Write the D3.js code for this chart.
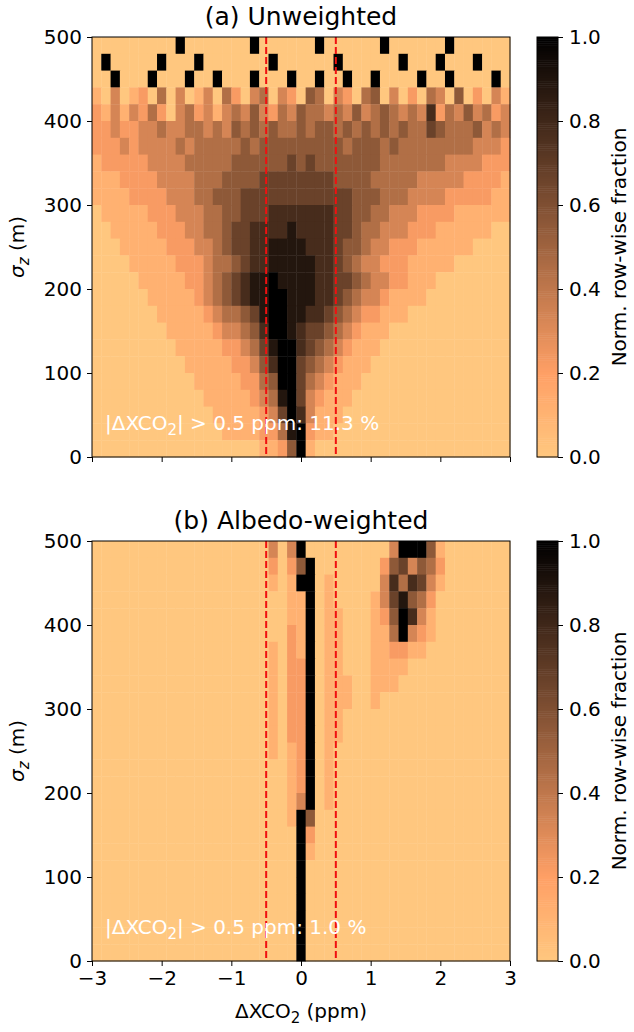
<!DOCTYPE html>
<html><head><meta charset="utf-8">
<script src="https://cdn.jsdelivr.net/npm/d3@7"></script>
<style>body{margin:0;background:#fff}text{font-family:"DejaVu Sans",sans-serif}</style>
</head><body><svg id="c" width="634" height="1032"></svg>
<script>
// Row strings: top row (480-500 m) first, 45 bins from -3 to 3 ppm, digit d -> value d/9
const rowsUnweighted = [
"00000 00009 00000 00900 00009 00000 09000 00090 00000",
"09000 00900 09000 00009 00000 09000 00090 00900 09000",
"00900 09000 90090 00900 09009 00900 90000 90090 00090",
"10301 20403 01304 20340 32054 03204 50302 04305 02031",
"21313 24203 42313 43532 43544 34353 45434 37243 53423",
"22322 33433 44343 54545 44545 54545 45454 46544 45343",
"22232 33334 34444 45455 55555 55455 54544 44444 43332",
"12222 23333 44444 55555 56565 55555 54444 44433 33222",
"11122 22333 34445 55566 66666 65555 44444 33333 22221",
"11112 22233 34455 56666 66666 66655 54443 33322 22211",
"01111 12223 33445 56667 77777 76655 44333 22221 11111",
"00111 11222 33445 66777 78777 76654 43332 22111 11100",
"00011 11122 23345 66778 88877 76554 33222 11111 10000",
"00001 11112 22344 56778 88887 76543 32221 11110 00000",
"00000 11111 22345 67889 88887 76654 33221 11000 00000",
"00000 01111 12345 67889 98887 76543 32111 10000 00000",
"00000 00111 11234 45689 98877 65432 21110 00000 00000",
"00000 00011 11123 34579 98766 54321 11000 00000 00000",
"00000 00001 11112 23468 99765 43211 10000 00000 00000",
"00000 00000 11111 22357 99654 32111 00000 00000 00000",
"00000 00000 01111 12245 99643 21110 00000 00000 00000",
"00000 00000 00111 11234 89632 11100 00000 00000 00000",
"00000 00000 00011 11123 69731 11000 00000 00000 00000",
"00000 00000 00001 11122 48921 10000 00000 00000 00000",
"00000 00000 00000 00011 25910 00000 00000 00000 00000"];
const rowsWeighted = [
"00000 00000 00000 00003 03900 00000 00399 95100 00000",
"00000 00000 00000 00002 02590 00000 02563 54200 00000",
"00000 00000 00000 00001 01990 10000 03747 63100 00000",
"00000 00000 00000 00000 01190 10000 13685 42000 00000",
"00000 00000 00000 00000 01190 11000 12597 31000 00000",
"00000 00000 00000 00000 02190 11000 11493 21000 00000",
"00000 00000 00000 00001 02190 11000 11221 10000 00000",
"00000 00000 00000 00001 02290 11000 11110 00000 00000",
"00000 00000 00000 00001 02290 11100 11100 00000 00000",
"00000 00000 00000 00001 02290 11100 10000 00000 00000",
"00000 00000 00000 00001 02290 11000 00000 00000 00000",
"00000 00000 00000 00001 02290 11000 00000 00000 00000",
"00000 00000 00000 00001 01290 10000 00000 00000 00000",
"00000 00000 00000 00000 01290 10000 00000 00000 00000",
"00000 00000 00000 00000 01290 10000 00000 00000 00000",
"00000 00000 00000 00000 01390 10000 00000 00000 00000",
"00000 00000 00000 00000 01950 00000 00000 00000 00000",
"00000 00000 00000 00000 00920 00000 00000 00000 00000",
"00000 00000 00000 00000 00910 00000 00000 00000 00000",
"00000 00000 00000 00000 00900 00000 00000 00000 00000",
"00000 00000 00000 00000 00900 00000 00000 00000 00000",
"00000 00000 00000 00000 00900 00000 00000 00000 00000",
"00000 00000 00000 00000 00900 00000 00000 00000 00000",
"00000 00000 00000 00000 00900 00000 00000 00000 00000",
"00000 00000 00000 00000 00900 00000 00000 00000 00000"];
const titles = ["(a) Unweighted", "(b) Albedo-weighted"];
const fractions = ["11.3 %", "1.0 %"];
const xTicks = [-3,-2,-1,0,1,2,3];
const yTicks = [0,100,200,300,400,500];
const cbTicks = [0,0.2,0.4,0.6,0.8,1.0];
const threshold = 0.5;

const copperR = v => { const t = 1 - v;
  return `rgb(${Math.round(255*Math.min(1,1.25*t))},${Math.round(255*0.7812*t)},${Math.round(255*0.4975*t)})`; };
const svg = d3.select("#c");
const panels = [{rows: rowsUnweighted, top: 37}, {rows: rowsWeighted, top: 541}];
const L = 92, R = 510, H = 420;
const x = d3.scaleLinear().domain([-3,3]).range([L,R]);
const FS = 20, SUB = 15;

panels.forEach((p, i) => {
  const y = d3.scaleLinear().domain([0,500]).range([p.top+H, p.top]);
  const grid = p.rows.map(s => s.replace(/ /g,"").split("").map(c => +c/9));
  const nr = grid.length, nc = grid[0].length, dx = 6/nc, dy = 500/nr;
  const cells = [];
  grid.forEach((row, r) => row.forEach((v, c) => cells.push({x0: -3 + c*dx, y1: 500 - r*dy, v})));
  const g = svg.append("g");
  g.selectAll("rect").data(cells).join("rect")
    .attr("x", d => x(d.x0)).attr("y", d => y(d.y1))
    .attr("width", x(dx) - x(0) + 0.4).attr("height", y(0) - y(dy) + 0.4)
    .attr("fill", d => copperR(d.v));
  [-threshold, threshold].forEach(t => g.append("line")
    .attr("x1", x(t)).attr("x2", x(t)).attr("y1", p.top).attr("y2", p.top+H)
    .attr("stroke", "#f01010").attr("stroke-width", 2).attr("stroke-dasharray", "7,3"));
  g.append("rect").attr("x", L).attr("y", p.top).attr("width", R-L).attr("height", H)
    .attr("fill", "none").attr("stroke", "#000").attr("stroke-width", 1);
  const xa = svg.append("g").attr("transform", `translate(0,${p.top+H})`)
    .call(d3.axisBottom(x).tickValues(xTicks).tickSize(5).tickPadding(5).tickFormat(i === 0 ? "" : d => d < 0 ? "−" + (-d) : d));
  const ya = svg.append("g").attr("transform", `translate(${L},0)`)
    .call(d3.axisLeft(y).tickValues(yTicks).tickSize(5).tickPadding(5));
  [xa, ya].forEach(a => { a.select(".domain").remove(); a.selectAll("text").attr("font-size", FS).attr("fill", "#000"); });
  svg.append("text").attr("x", (L+R)/2).attr("y", p.top - 12).attr("text-anchor", "middle")
    .attr("font-size", 25).text(titles[i]);
  const yl = svg.append("text").attr("transform", `translate(24,${p.top+H/2}) rotate(-90)`)
    .attr("text-anchor", "middle").attr("font-size", FS);
  yl.append("tspan").attr("font-style", "italic").text("σ");
  yl.append("tspan").attr("font-style", "italic").attr("font-size", SUB).attr("dy", 5).text("z");
  yl.append("tspan").attr("dy", -5).text(" (m)");
  const an = svg.append("text").attr("x", 105).attr("y", p.top + H - 27).attr("fill", "#fff").attr("font-size", FS);
  an.append("tspan").text("|ΔXCO");
  an.append("tspan").attr("font-size", SUB).attr("dy", 5).text("2");
  an.append("tspan").attr("dy", -5).text("| > 0.5 ppm: " + fractions[i]);

  // colorbar
  const cy = d3.scaleLinear().domain([0,1]).range([p.top+H, p.top]);
  const steps = d3.range(0, 1, 0.005);
  svg.append("g").selectAll("rect").data(steps).join("rect")
    .attr("x", 537).attr("width", 21).attr("y", d => cy(d+0.005)).attr("height", cy(0)-cy(0.005)+0.5)
    .attr("fill", d => copperR(d + 0.0025));
  svg.append("rect").attr("x", 537).attr("y", p.top).attr("width", 21).attr("height", H)
    .attr("fill", "none").attr("stroke", "#000");
  const ca = svg.append("g").attr("transform", "translate(558,0)")
    .call(d3.axisRight(cy).tickValues(cbTicks).tickSize(5).tickPadding(6).tickFormat(d3.format(".1f")));
  ca.select(".domain").remove(); ca.selectAll("text").attr("font-size", FS);
  svg.append("text").attr("transform", `translate(626,${p.top+H/2}) rotate(-90)`)
    .attr("text-anchor", "middle").attr("font-size", FS).text("Norm. row-wise fraction");
});
const xl = svg.append("text").attr("x", (L+R)/2).attr("y", 1018).attr("text-anchor", "middle").attr("font-size", FS);
xl.append("tspan").text("ΔXCO");
xl.append("tspan").attr("font-size", SUB).attr("dy", 5).text("2");
xl.append("tspan").attr("dy", -5).text(" (ppm)");
</script></body></html>
